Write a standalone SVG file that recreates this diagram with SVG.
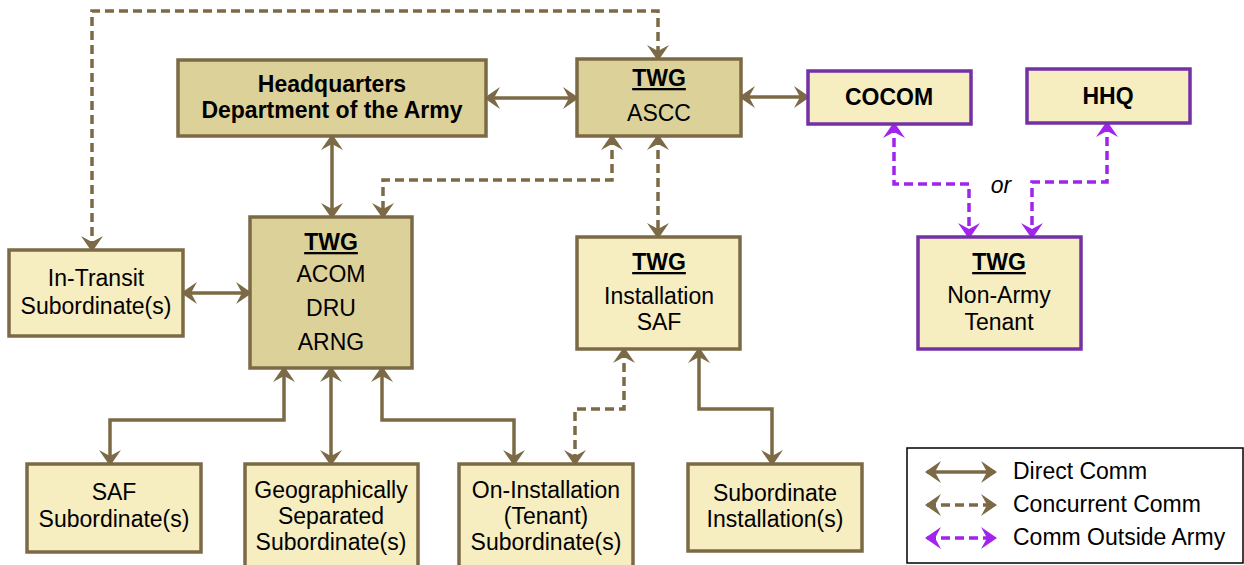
<svg xmlns="http://www.w3.org/2000/svg" width="1244" height="565" viewBox="0 0 1244 565">
<style>
.box{stroke:#7b6a45;stroke-width:3.5}
.dk{fill:#ddd19a}
.lt{fill:#f6edc1}
.pb{stroke:#7431a6;stroke-width:3.5;fill:#f6edc1}
text{font-family:"Liberation Sans",Arial,sans-serif;font-size:23px;fill:#000;text-anchor:middle}
.b{font-weight:bold}
.u{font-weight:bold;text-decoration:underline}
.c{fill:none;stroke:#7b6a45;stroke-width:3.5}
.d{stroke-dasharray:9 5}
.p{fill:none;stroke:#a024ee;stroke-width:3.5;stroke-dasharray:9 5}
.br{marker-start:url(#ab);marker-end:url(#ab)}
.pr{marker-start:url(#ap);marker-end:url(#ap)}
.lg{text-anchor:start}
</style>
<defs>
<marker id="ab" viewBox="0 0 16 22" refX="14" refY="11" markerWidth="16" markerHeight="22" markerUnits="userSpaceOnUse" orient="auto-start-reverse">
<path d="M0,0 L16,11 L0,22 L6,11 z" fill="#7b6a45"/>
</marker>
<marker id="ap" viewBox="0 0 16 22" refX="14" refY="11" markerWidth="16" markerHeight="22" markerUnits="userSpaceOnUse" orient="auto-start-reverse">
<path d="M0,0 L16,11 L0,22 L6,11 z" fill="#a024ee"/>
</marker>
</defs>

<g id="connectors">
<path class="c br" d="M486,98 H577"/>
<path class="c br" d="M741,97 H808"/>
<path class="c br" d="M332,136 V217"/>
<path class="c br" d="M183,293 H250"/>
<path class="c br" d="M284,368 V420 H110 V464"/>
<path class="c br" d="M331,368 V464"/>
<path class="c br" d="M382,368 V420 H514 V464"/>
<path class="c br" d="M699,349 V409 H772 V464"/>
<path class="c d br" d="M92,250 V11 H658 V59"/>
<path class="c d br" d="M612,136 V180 H383 V217"/>
<path class="c d br" d="M658,136 V237"/>
<path class="c d br" d="M624,349 V409 H575 V464"/>
<path class="p pr" d="M894,124 V184 H969 V237"/>
<path class="p pr" d="M1107,123 V182 H1032 V237"/>
</g>

<g id="hqda">
<rect class="box dk" x="178" y="60" width="308" height="76"/>
<text class="b" x="332" y="92">Headquarters</text>
<text class="b" x="332" y="118">Department of the Army</text>
</g>
<g id="ascc">
<rect class="box dk" x="577" y="59" width="164" height="77"/>
<text class="u" x="659" y="86">TWG</text>
<text x="659" y="121">ASCC</text>
</g>
<g id="cocom">
<rect class="pb" x="808" y="71" width="163" height="53"/>
<text class="b" x="889" y="105">COCOM</text>
</g>
<g id="hhq">
<rect class="pb" x="1027" y="69" width="163" height="54"/>
<text class="b" x="1108" y="104">HHQ</text>
</g>
<g id="acom">
<rect class="box dk" x="250" y="217" width="162" height="151"/>
<text class="u" x="331" y="250">TWG</text>
<text x="331" y="282">ACOM</text>
<text x="331" y="316">DRU</text>
<text x="331" y="350">ARNG</text>
</g>
<g id="intransit">
<rect class="box lt" x="9" y="250" width="174" height="86"/>
<text x="96" y="286">In-Transit</text>
<text x="96" y="314">Subordinate(s)</text>
</g>
<g id="instsaf">
<rect class="box lt" x="577" y="237" width="163" height="112"/>
<text class="u" x="659" y="270">TWG</text>
<text x="659" y="304">Installation</text>
<text x="659" y="330">SAF</text>
</g>
<g id="nonarmy">
<rect class="pb" x="918" y="237" width="163" height="112"/>
<text class="u" x="999" y="270">TWG</text>
<text x="999" y="303">Non-Army</text>
<text x="999" y="330">Tenant</text>
</g>
<text x="1001" y="193" style="font-style:italic">or</text>
<g id="safsub">
<rect class="box lt" x="27" y="464" width="174" height="88"/>
<text x="114" y="500">SAF</text>
<text x="114" y="527">Subordinate(s)</text>
</g>
<g id="geo">
<rect class="box lt" x="245" y="464" width="173" height="110"/>
<text x="331" y="498">Geographically</text>
<text x="331" y="524">Separated</text>
<text x="331" y="550">Subordinate(s)</text>
</g>
<g id="oninst">
<rect class="box lt" x="459" y="464" width="174" height="110"/>
<text x="546" y="498">On-Installation</text>
<text x="546" y="524">(Tenant)</text>
<text x="546" y="550">Subordinate(s)</text>
</g>
<g id="subinst">
<rect class="box lt" x="688" y="464" width="174" height="87"/>
<text x="775" y="501">Subordinate</text>
<text x="775" y="527">Installation(s)</text>
</g>

<g id="legend">
<rect x="907" y="448" width="336" height="115" fill="#fff" stroke="#000" stroke-width="1.5"/>
<path class="c br" d="M927,472 H995"/>
<path class="c d br" d="M927,505 H995"/>
<path class="p pr" d="M927,538 H995"/>
<text class="lg" x="1013" y="479">Direct Comm</text>
<text class="lg" x="1013" y="512">Concurrent Comm</text>
<text class="lg" x="1013" y="545">Comm Outside Army</text>
</g>
</svg>
